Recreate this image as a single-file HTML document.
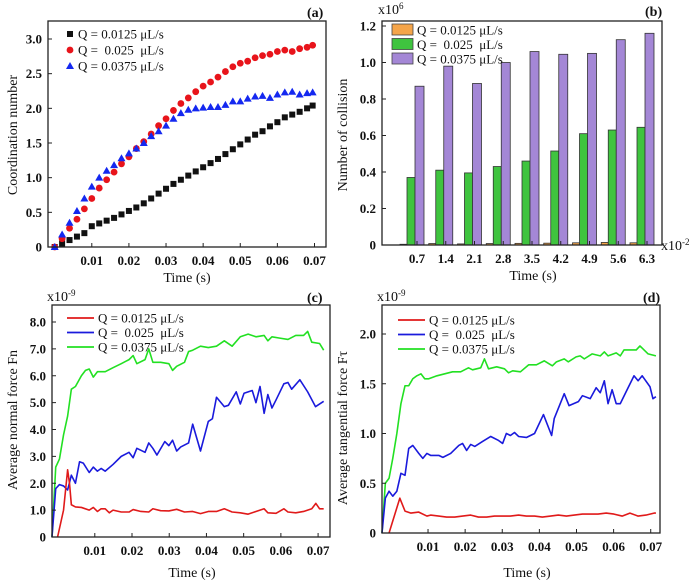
<!DOCTYPE html>
<html><head><meta charset="utf-8">
<style>
body{margin:0;background:#fff;}
svg{display:block;font-family:"Liberation Serif",serif;}
.tk{font-size:13px;font-weight:bold;fill:#111;}
.tt{font-size:14px;fill:#111;}
.lg{font-size:13px;fill:#111;}
</style></head>
<body>
<svg id="fig" width="700" height="581" viewBox="0 0 700 581"></svg>
<script>
// Panel (a) data
const aT = [0,0.002,0.004,0.006,0.008,0.01,0.012,0.014,0.016,0.018,0.02,0.022,0.024,0.026,0.028,0.03,0.032,0.034,0.036,0.038,0.04,0.042,0.044,0.046,0.048,0.05,0.052,0.054,0.056,0.058,0.06,0.062,0.064,0.066,0.068,0.0695];
const aBlack = [0,0.05,0.1,0.15,0.2,0.3,0.34,0.38,0.42,0.47,0.52,0.57,0.63,0.7,0.77,0.84,0.91,0.97,1.03,1.09,1.15,1.21,1.27,1.34,1.41,1.48,1.55,1.62,1.67,1.74,1.8,1.87,1.91,1.95,2.0,2.04];
const aRed = [0,0.12,0.27,0.4,0.55,0.7,0.85,0.97,1.08,1.2,1.3,1.42,1.52,1.63,1.75,1.85,1.97,2.07,2.15,2.24,2.32,2.38,2.45,2.53,2.6,2.65,2.68,2.73,2.76,2.78,2.82,2.84,2.82,2.86,2.88,2.91];
const aBlue = [0,0.18,0.35,0.52,0.7,0.87,1.0,1.1,1.18,1.28,1.35,1.42,1.5,1.6,1.67,1.75,1.85,1.93,1.98,2.0,2.01,2.02,2.02,2.05,2.1,2.1,2.14,2.17,2.18,2.15,2.2,2.23,2.24,2.2,2.22,2.23];
// Panel (b) data
const bCats = ["0.7","1.4","2.1","2.8","3.5","4.2","4.9","5.6","6.3"];
const bOrange = [0.004,0.008,0.006,0.008,0.009,0.01,0.012,0.014,0.012];
const bGreen = [0.37,0.41,0.395,0.43,0.46,0.515,0.61,0.63,0.645];
const bPurple = [0.87,0.98,0.885,1.0,1.06,1.045,1.05,1.125,1.16];
// Panel (c) data
const cGreenT = [-0.0015,-0.0005,0.0005,0.0016,0.0027,0.0037,0.0048,0.0064,0.0075,0.0085,0.0096,0.0107,0.0128,0.0149,0.0171,0.0192,0.0203,0.0213,0.0235,0.0245,0.0256,0.0277,0.0299,0.0309,0.032,0.0341,0.0352,0.0363,0.0384,0.0405,0.0427,0.0448,0.0469,0.0491,0.0512,0.0533,0.0555,0.0565,0.0576,0.0597,0.0619,0.064,0.0661,0.0672,0.0683,0.0704,0.0715];
const cGreen = [0,2.6,2.9,3.8,4.5,5.5,5.6,6.0,6.2,6.25,5.95,6.15,6.15,6.3,6.45,6.6,6.75,6.45,6.6,7.0,6.5,6.5,6.45,6.2,6.35,6.5,6.9,6.95,7.1,7.05,7.1,7.3,7.1,7.45,7.55,7.45,7.5,7.3,7.45,7.4,7.35,7.5,7.5,7.65,7.25,7.2,6.95];
const cBlueT = [-0.0015,-0.0005,0.0005,0.0016,0.0027,0.0037,0.0048,0.0059,0.0069,0.0085,0.0096,0.0107,0.0117,0.0128,0.0149,0.0171,0.0192,0.0203,0.0213,0.0235,0.0245,0.0256,0.0267,0.0288,0.0299,0.0309,0.032,0.0331,0.0352,0.0363,0.0384,0.0405,0.0416,0.0427,0.0448,0.0459,0.048,0.0491,0.0501,0.0523,0.0533,0.0544,0.0555,0.0565,0.0576,0.0587,0.0608,0.0619,0.0629,0.0651,0.0672,0.0693,0.0715];
const cBlue = [0,1.8,1.95,1.9,1.75,2.3,2.0,2.8,2.75,2.4,2.6,2.45,2.55,2.45,2.7,3.0,3.15,2.95,3.3,3.15,3.5,3.3,3.05,3.55,3.4,3.6,3.2,3.35,3.5,4.2,3.2,4.3,4.4,5.2,4.85,4.9,5.4,4.95,5.35,5.45,5.0,5.6,4.6,5.3,4.8,5.1,5.7,5.75,5.5,5.85,5.4,4.85,5.05];
const cRedT = [0,0.0016,0.0027,0.0032,0.0037,0.0048,0.0064,0.0085,0.0096,0.0107,0.0117,0.0128,0.0139,0.0149,0.0171,0.0192,0.0203,0.0224,0.0245,0.0256,0.0277,0.0299,0.032,0.0341,0.0363,0.0384,0.0405,0.0427,0.0448,0.0469,0.0491,0.0512,0.0533,0.0555,0.0565,0.0587,0.0608,0.0619,0.064,0.0661,0.0683,0.0694,0.0704,0.0715];
const cRed = [0,1.0,2.5,2.0,1.2,1.12,1.1,1.0,1.1,0.95,1.05,1.05,0.9,1.0,0.93,0.93,1.02,0.95,0.93,1.05,0.98,0.97,1.03,0.93,0.95,0.87,0.95,0.95,1.05,0.93,0.9,0.85,0.95,1.05,0.9,0.88,1.05,0.93,0.9,0.95,1.05,1.25,1.05,1.05];
// Panel (d) data
const dGreenT = [-0.0024,-0.0015,-0.0005,0.0005,0.0016,0.0027,0.0038,0.0048,0.0059,0.007,0.0081,0.0091,0.0102,0.0124,0.0145,0.0166,0.0188,0.0209,0.022,0.0242,0.0252,0.0263,0.0285,0.0306,0.0317,0.0328,0.0349,0.0371,0.0392,0.0413,0.0435,0.0446,0.0467,0.0478,0.0499,0.051,0.0521,0.0542,0.0553,0.0564,0.0575,0.0585,0.0607,0.0618,0.0628,0.065,0.0661,0.0671,0.0693,0.0714];
const dGreen = [0,0.5,0.55,0.75,1.0,1.3,1.48,1.48,1.55,1.58,1.6,1.55,1.55,1.58,1.6,1.62,1.62,1.66,1.64,1.66,1.75,1.65,1.67,1.65,1.61,1.63,1.62,1.69,1.69,1.73,1.68,1.72,1.75,1.72,1.77,1.78,1.75,1.8,1.79,1.78,1.82,1.78,1.81,1.78,1.84,1.84,1.84,1.88,1.8,1.78];
const dBlueT = [-0.0024,-0.0015,-0.0005,0.0005,0.0016,0.0027,0.0038,0.0048,0.0059,0.0075,0.0086,0.0097,0.0107,0.0129,0.014,0.0161,0.0183,0.0193,0.0204,0.0215,0.0226,0.0247,0.0269,0.029,0.0301,0.0311,0.0322,0.0333,0.0344,0.0365,0.0387,0.0411,0.0433,0.044,0.0467,0.048,0.0505,0.0516,0.0537,0.0553,0.0564,0.0575,0.0585,0.0596,0.0607,0.0618,0.0639,0.0655,0.0666,0.0677,0.0698,0.0706,0.0714];
const dBlue = [0,0.35,0.42,0.37,0.42,0.6,0.58,0.85,0.88,0.8,0.75,0.8,0.78,0.78,0.76,0.8,0.88,0.9,0.83,0.89,0.87,0.92,0.97,0.93,0.9,1.0,0.98,1.01,0.97,0.96,1.0,1.19,0.98,1.15,1.4,1.28,1.32,1.38,1.35,1.46,1.41,1.53,1.3,1.44,1.3,1.3,1.46,1.58,1.53,1.58,1.47,1.35,1.37];
const dRedT = [-0.0005,0.0024,0.0038,0.0054,0.0075,0.0097,0.0107,0.0129,0.015,0.0172,0.0193,0.0215,0.0236,0.0258,0.0279,0.0301,0.0322,0.0344,0.0365,0.0387,0.0408,0.043,0.0451,0.0473,0.0494,0.0516,0.0537,0.0558,0.058,0.0601,0.0623,0.0644,0.0666,0.0687,0.0709,0.0714];
const dRed = [0,0.35,0.22,0.2,0.21,0.17,0.18,0.17,0.16,0.16,0.17,0.18,0.16,0.16,0.17,0.17,0.17,0.18,0.17,0.17,0.16,0.17,0.18,0.17,0.18,0.19,0.19,0.19,0.2,0.19,0.17,0.2,0.17,0.18,0.2,0.2];
const timeTicks = [0.01,0.02,0.03,0.04,0.05,0.06,0.07];

const NS="http://www.w3.org/2000/svg";
const svg=document.getElementById('fig');
function el(tag,attrs,parent,txt){const e=document.createElementNS(NS,tag);for(const k in attrs)e.setAttribute(k,attrs[k]);if(txt!==undefined)e.textContent=txt;(parent||svg).appendChild(e);return e;}
function lin(d0,d1,r0,r1){return v=>r0+(v-d0)/(d1-d0)*(r1-r0);}

function frame(g,L,T,R,B,name){
  const r=el('rect',{x:L,y:T,width:R-L,height:B-T,fill:'none',stroke:'#222','stroke-width':1.3},g);
  
  
}
function yAxis(g,L,ys,vals,labs,name){
  const ax=el('g',{},g);
  
  
  vals.forEach((v,i)=>{
    el('line',{x1:L,x2:L+4,y1:ys(v),y2:ys(v),stroke:'#222'},ax);
    const t=el('text',{x:L-6,y:ys(v)+4.5,'text-anchor':'end',class:'tk'},ax,labs[i]);
    
    
  });
}
function xAxis(g,B,xs,vals,labs,name){
  const ax=el('g',{},g);
  
  
  vals.forEach((v,i)=>{
    el('line',{x1:xs(v),x2:xs(v),y1:B,y2:B-4,stroke:'#222'},ax);
    const t=el('text',{x:xs(v),y:B+18,'text-anchor':'middle',class:'tk'},ax,labs[i]);
    
    
  });
}
function text(g,x,y,s,cls,name,extra){
  const t=el('text',Object.assign({x:x,y:y,class:cls},extra||{}),g);
  t.innerHTML=s;
  
  
  return t;
}
function line(g,T,V,xs,ys,color,name){
  const p=el('polyline',{points:T.map((t,i)=>xs(t)+','+ys(V[i])).join(' '),fill:'none',stroke:color,'stroke-width':1.6,'stroke-linejoin':'round'},g);
  
  
}
const LEG=['Q = 0.0125 μL/s','Q = &#160;0.025 &#160;μL/s','Q = 0.0375 μL/s'];

// ---------- Panel (a)
(function(){
  const g=el('g',{});
  
  
  const L=48,T=21,R=326,B=247;
  const xs=lin(-0.0018,0.0731,L,R), ys=lin(0,3.0,B,39);
  const ser=[[aBlack,'#111','sq','series-q0125'],[aRed,'#e8141b','ci','series-q025'],[aBlue,'#1428f0','tr','series-q0375']];
  ser.forEach(([V,c,m,n])=>{
    const sg=el('g',{fill:c},g);
    
    
    aT.forEach((t,i)=>{
      const x=xs(t),y=ys(V[i]);
      if(m==='sq')el('rect',{x:x-3,y:y-3,width:6,height:6},sg);
      else if(m==='ci')el('circle',{cx:x,cy:y,r:3.4},sg);
      else el('polygon',{points:`${x},${y-4} ${x-4},${y+3} ${x+4},${y+3}`},sg);
    });
  });
  frame(g,L,T,R,B,'panel-a');
  yAxis(g,L,ys,[0,0.5,1,1.5,2,2.5,3],['0','0.5','1.0','1.5','2.0','2.5','3.0'],'panel-a');
  xAxis(g,B,xs,timeTicks,timeTicks.map(String),'panel-a');
  text(g,187,282,'Time (s)','tt','x-axis-title',{'text-anchor':'middle'});
  text(g,0,0,'Coordination number','tt','y-axis-title',{'text-anchor':'middle',transform:'translate(17,135) rotate(-90)'});
  text(g,307,17,'(a)','tt','panel-label',{'font-weight':'bold'});
  const lg=el('g',{},g);
  
  
  [['sq','#111'],['ci','#e8141b'],['tr','#1428f0']].forEach(([m,c],i)=>{
    const y=34+i*16;
    if(m==='sq')el('rect',{x:67,y:y-3,width:6,height:6,fill:c},lg);
    else if(m==='ci')el('circle',{cx:70,cy:y,r:3.4,fill:c},lg);
    else el('polygon',{points:`70,${y-4} 66,${y+3} 74,${y+3}`,fill:c},lg);
    text(lg,78,y+4.5,LEG[i],'lg','legend-entry');
  });
})();

// ---------- Panel (b)
(function(){
  const g=el('g',{});
  
  
  const L=382,T=21,R=662,B=245;
  const ys=lin(0,1.2,B,26);
  const xs=i=>417+i*28.75;
  const bars=[[bOrange,'#f5a54a',-17,7,'bar-q0125'],[bGreen,'#3fc43f',-10,8,'bar-q025'],[bPurple,'#a487d6',-2,9,'bar-q0375']];
  bars.forEach(([V,c,off,w,n])=>{
    V.forEach((v,i)=>{
      const r=el('rect',{x:xs(i)+off,y:ys(v),width:w,height:B-ys(v),fill:c,stroke:'#333','stroke-width':0.8},g);
      
      
    });
  });
  frame(g,L,T,R,B,'panel-b');
  yAxis(g,L,ys,[0,0.2,0.4,0.6,0.8,1.0,1.2],['0','0.2','0.4','0.6','0.8','1.0','1.2'],'panel-b');
  xAxis(g,B,x=>xs(x),bCats.map((c,i)=>i),bCats,'panel-b');
  text(g,533,280,'Time (s)','tt','x-axis-title',{'text-anchor':'middle'});
  text(g,0,0,'Number of collision','tt','y-axis-title',{'text-anchor':'middle',transform:'translate(347,135) rotate(-90)'});
  text(g,645,16,'(b)','tt','panel-label',{'font-weight':'bold'});
  text(g,378,14,'x10<tspan dy="-5" font-size="9">6</tspan>','tt','y-scale-factor');
  text(g,661,250,'x10<tspan dy="-5" font-size="9">-2</tspan>','tt','x-scale-factor');
  const lg=el('g',{},g);
  
  
  ['#f5a54a','#3fc43f','#a487d6'].forEach((c,i)=>{
    const y=30+i*14.5;
    el('rect',{x:392,y:y-6,width:21,height:11,fill:c,stroke:'#444','stroke-width':0.8},lg);
    text(lg,417,y+4.5,LEG[i],'lg','legend-entry');
  });
})();

// ---------- Line panels
function forcePanel(o){
  const g=el('g',{});
  
  
  const xs=lin(o.x0,o.x1,o.L,o.R), ys=lin(0,o.ymax,o.B,o.yTop);
  line(g,o.gT,o.gV,xs,ys,'#22e022','series-q0375-line');
  line(g,o.bT,o.bV,xs,ys,'#1a1adc','series-q025-line');
  line(g,o.rT,o.rV,xs,ys,'#e01a1a','series-q0125-line');
  frame(g,o.L,o.T,o.R,o.B,o.name);
  yAxis(g,o.L,ys,o.yv,o.yl,o.name);
  xAxis(g,o.B,xs,timeTicks,timeTicks.map(String),o.name);
  text(g,o.xtx,577,'Time (s)','tt','x-axis-title',{'text-anchor':'middle'});
  text(g,0,0,o.ytitle,'tt','y-axis-title',{'text-anchor':'middle',transform:`translate(${o.ytx},${o.yty}) rotate(-90)`});
  text(g,o.plx,302,o.pl,'tt','panel-label',{'font-weight':'bold'});
  text(g,o.L-5,301,'x10<tspan dy="-5" font-size="9">-9</tspan>','tt','y-scale-factor');
  const lg=el('g',{},g);
  
  
  ['#e01a1a','#1a1adc','#22e022'].forEach((c,i)=>{
    const y=o.lgy+i*14.5;
    el('line',{x1:o.lgx,x2:o.lgx+27,y1:y,y2:y,stroke:c,'stroke-width':1.8},lg);
    text(lg,o.lgx+31,y+4.5,LEG[i],'lg','legend-entry');
  });
}
forcePanel({name:'panel-c-normal-force-chart',L:52,T:305,R:330,B:537,x0:-0.0015,x1:0.0732,yTop:322,ymax:8,
  gT:cGreenT,gV:cGreen,bT:cBlueT,bV:cBlue,rT:cRedT,rV:cRed,
  yv:[0,1,2,3,4,5,6,7,8],yl:['0','1.0','2.0','3.0','4.0','5.0','6.0','7.0','8.0'],
  xtx:192,ytitle:'Average normal force Fn',ytx:17,yty:420,plx:307,pl:'(c)',lgx:67,lgy:318});
forcePanel({name:'panel-d-tangential-force-chart',L:382,T:305,R:660,B:533,x0:-0.0024,x1:0.0725,yTop:334,ymax:2,
  gT:dGreenT,gV:dGreen,bT:dBlueT,bV:dBlue,rT:dRedT,rV:dRed,
  yv:[0,0.5,1,1.5,2],yl:['0','0.5','1.0','1.5','2.0'],
  xtx:527,ytitle:'Average tangential force Fτ',ytx:347,yty:428,plx:643,pl:'(d)',lgx:398,lgy:320});
</script>
</body></html>
